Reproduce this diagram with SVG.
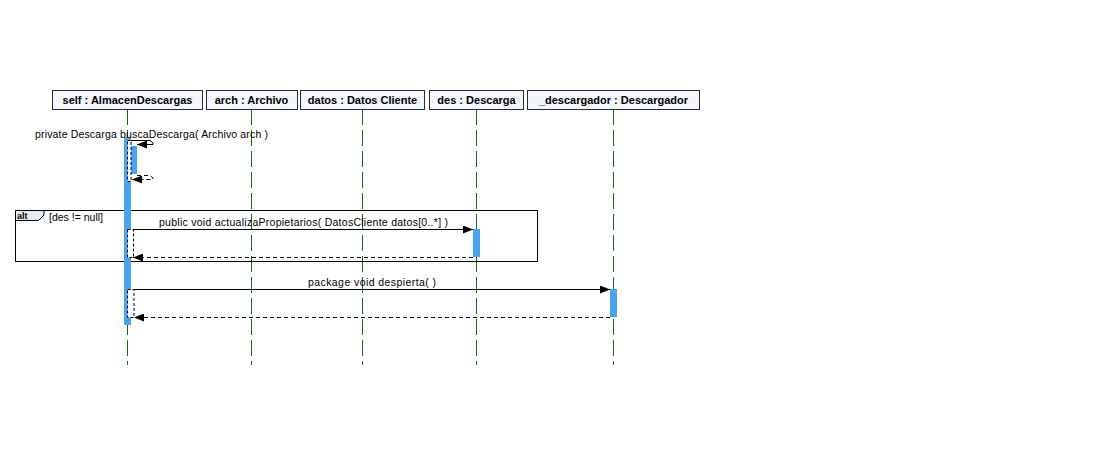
<svg xmlns="http://www.w3.org/2000/svg" width="1108" height="472" viewBox="0 0 1108 472">
<defs>
<style>
.hdr{fill:#f2f6fc;stroke:#2a2a2a;stroke-width:1}
.hdrt{font-family:"Liberation Sans",Arial,sans-serif;font-size:11px;font-weight:bold;fill:#000;text-anchor:middle}
.life{stroke:#106b10;stroke-width:1;stroke-dasharray:16,5;fill:none}
.act{fill:#4aa3ef;stroke:none}
.msg{stroke:#000;stroke-width:1;fill:none}
.ret{stroke:#000;stroke-width:1;fill:none;stroke-dasharray:4,3}
.brk{fill:#fff;stroke:#000;stroke-width:1;stroke-dasharray:3,2}
.lbl{font-family:"Liberation Sans",Arial,sans-serif;font-size:10.5px;fill:#000}
</style>
<marker id="ah" markerWidth="10" markerHeight="8" refX="10" refY="4" orient="auto" markerUnits="userSpaceOnUse">
<path d="M0,0 L10,4 L0,8 Z" fill="#000"/>
</marker>
</defs>
<rect width="1108" height="472" fill="#fff"/>

<g id="lifelines">
<line class="life" x1="127.5" y1="109" x2="127.5" y2="365"/>
<line class="life" x1="251.5" y1="109" x2="251.5" y2="365"/>
<line class="life" x1="362.5" y1="109" x2="362.5" y2="365"/>
<line class="life" x1="476.5" y1="109" x2="476.5" y2="365"/>
<line class="life" x1="613.5" y1="109" x2="613.5" y2="365"/>
</g>

<g id="self">
<rect class="hdr" x="52.5" y="90.5" width="150" height="19"/>
<text class="hdrt" x="127.5" y="104">self : AlmacenDescargas</text>
</g>
<g id="arch">
<rect class="hdr" x="206.5" y="90.5" width="91" height="19"/>
<text class="hdrt" x="251.5" y="104">arch : Archivo</text>
</g>
<g id="datos">
<rect class="hdr" x="300.5" y="90.5" width="124" height="19"/>
<text class="hdrt" x="362.5" y="104">datos : Datos Cliente</text>
</g>
<g id="des">
<rect class="hdr" x="429.5" y="90.5" width="94" height="19"/>
<text class="hdrt" x="476.5" y="104">des : Descarga</text>
</g>
<g id="descargador">
<rect class="hdr" x="527.5" y="90.5" width="172" height="19"/>
<text class="hdrt" x="613.5" y="104">_descargador : Descargador</text>
</g>

<g id="alt-frame">
<rect x="15.5" y="210.5" width="522" height="51" fill="none" stroke="#000" stroke-width="1"/>
<path d="M15.5,210.5 H44 V215 L38.5,220.5 H15.5 Z" fill="#e6ecf6" stroke="#000" stroke-width="1"/>
<text x="17" y="218.5" font-family="Liberation Sans,Arial,sans-serif" font-size="9" font-weight="bold">alt</text>
<text class="lbl" x="49" y="221">[des != null]</text>
</g>

<g id="activations">
<rect class="act" x="124" y="137" width="7" height="188"/>
<rect class="act" x="131" y="146" width="6" height="28"/>
<rect class="act" x="473" y="229" width="7" height="28"/>
<rect class="act" x="610" y="289" width="7" height="28"/>
</g>

<g id="connectors">
<rect class="brk" x="127.5" y="140.5" width="3.5" height="41"/>
<path class="msg" d="M131,140.5 H150 L153,143 V144.5 H137" marker-end="url(#ah)"/>
<path class="ret" d="M137,175.5 H150 L153,178 V179.5 H132" marker-end="url(#ah)"/>
<text class="lbl" x="35" y="138" textLength="233" lengthAdjust="spacing">private Descarga  buscaDescarga( Archivo arch )</text>

<rect class="brk" x="127.5" y="229.5" width="6" height="28"/>
<line class="msg" x1="133" y1="229.5" x2="473" y2="229.5" marker-end="url(#ah)"/>
<line class="ret" x1="473" y1="257.5" x2="133" y2="257.5" marker-end="url(#ah)"/>
<text class="lbl" x="159" y="226" textLength="289" lengthAdjust="spacing">public void  actualizaPropietarios( DatosCliente datos[0..*] )</text>

<rect class="brk" x="127.5" y="289.5" width="6.5" height="28"/>
<line class="msg" x1="134" y1="289.5" x2="610" y2="289.5" marker-end="url(#ah)"/>
<line class="ret" x1="610" y1="317.5" x2="134" y2="317.5" marker-end="url(#ah)"/>
<text class="lbl" x="308" y="286" textLength="128" lengthAdjust="spacing">package void  despierta( )</text>
</g>
</svg>
